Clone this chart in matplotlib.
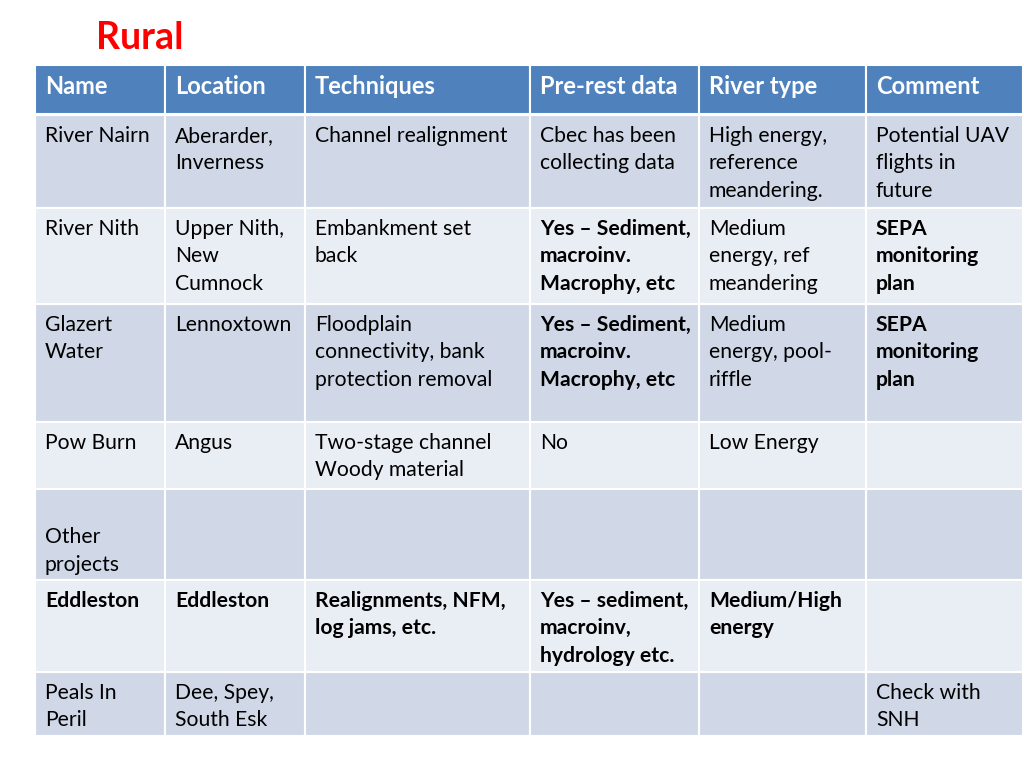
import matplotlib.pyplot as plt
from matplotlib.patches import Rectangle

# Contenido de la tabla
titulo = "Rural"
columnas = ["Name", "Location", "Techniques", "Pre-rest data", "River type", "Comment"]
filas = [
    ["River Nairn", "Aberarder,\nInverness", "Channel realignment", "Cbec has been\ncollecting data",
     "High energy,\nreference\nmeandering.", "Potential UAV\nflights in\nfuture"],
    ["River Nith", "Upper Nith,\nNew\nCumnock", "Embankment set\nback", "Yes \u2013 Sediment,\nmacroinv.\nMacrophy, etc",
     "Medium\nenergy, ref\nmeandering", "SEPA\nmonitoring\nplan"],
    ["Glazert\nWater", "Lennoxtown", "Floodplain\nconnectivity, bank\nprotection removal",
     "Yes \u2013 Sediment,\nmacroinv.\nMacrophy, etc", "Medium\nenergy, pool-\nriffle", "SEPA\nmonitoring\nplan"],
    ["Pow Burn", "Angus", "Two-stage channel\nWoody material", "No", "Low Energy", ""],
    ["\nOther\nprojects", "", "", "", "", ""],
    ["Eddleston", "Eddleston", "Realignments, NFM,\nlog jams, etc.", "Yes \u2013 sediment,\nmacroinv,\nhydrology etc.",
     "Medium/High\nenergy", ""],
    ["Peals In\nPeril", "Dee, Spey,\nSouth Esk", "", "", "", "Check with\nSNH"],
]
negritas = [
    [False, False, False, False, False, False],
    [False, False, False, True, False, True],
    [False, False, False, True, False, True],
    [False, False, False, False, False, False],
    [False, False, False, False, False, False],
    [True, True, True, True, True, False],
    [False, False, False, False, False, False],
]

# Geometria en pixeles
bordes_x = [35, 165, 305, 530, 699, 866, 1023]
cabecera_y = (65, 114)
bordes_y = [115, 208, 304, 422, 489, 580, 672, 736]

fuente = "Lato"
tam = 15.2
tam_cab = 17
interlinea = 27.4

fig = plt.figure(figsize=(10.24, 7.68), dpi=100)
ax = fig.add_axes([0, 0, 1, 1])
ax.set_xlim(0, 1024)
ax.set_ylim(768, 0)
ax.axis("off")

ax.text(96, 49, titulo, color="#FF0000", fontsize=27, fontweight="bold",
        family=fuente, va="baseline", ha="left")

# Cabecera
for j, col in enumerate(columnas):
    x0, x1 = bordes_x[j], bordes_x[j + 1]
    ax.add_patch(Rectangle((x0, cabecera_y[0]), x1 - x0, cabecera_y[1] - cabecera_y[0],
                           facecolor="#4F81BD", edgecolor="white", linewidth=1.5))
    ax.text(x0 + 10, 94, col, color="white", fontsize=tam_cab, fontweight="bold",
            family=fuente, va="baseline", ha="left")

# Filas
for i, fila in enumerate(filas):
    y0, y1 = bordes_y[i], bordes_y[i + 1]
    color = "#D0D8E8" if i % 2 == 0 else "#E9EDF4"
    for j, celda in enumerate(fila):
        x0, x1 = bordes_x[j], bordes_x[j + 1]
        ax.add_patch(Rectangle((x0, y0), x1 - x0, y1 - y0,
                               facecolor=color, edgecolor="white", linewidth=1.5))
        peso = "bold" if negritas[i][j] else "normal"
        for k, linea in enumerate(celda.split("\n")):
            ax.text(x0 + 10, y0 + 27 + k * interlinea, linea, color="black",
                    fontsize=tam, fontweight=peso, family=fuente,
                    va="baseline", ha="left")

fig.savefig("out.png", dpi=100)
plt.close(fig)
